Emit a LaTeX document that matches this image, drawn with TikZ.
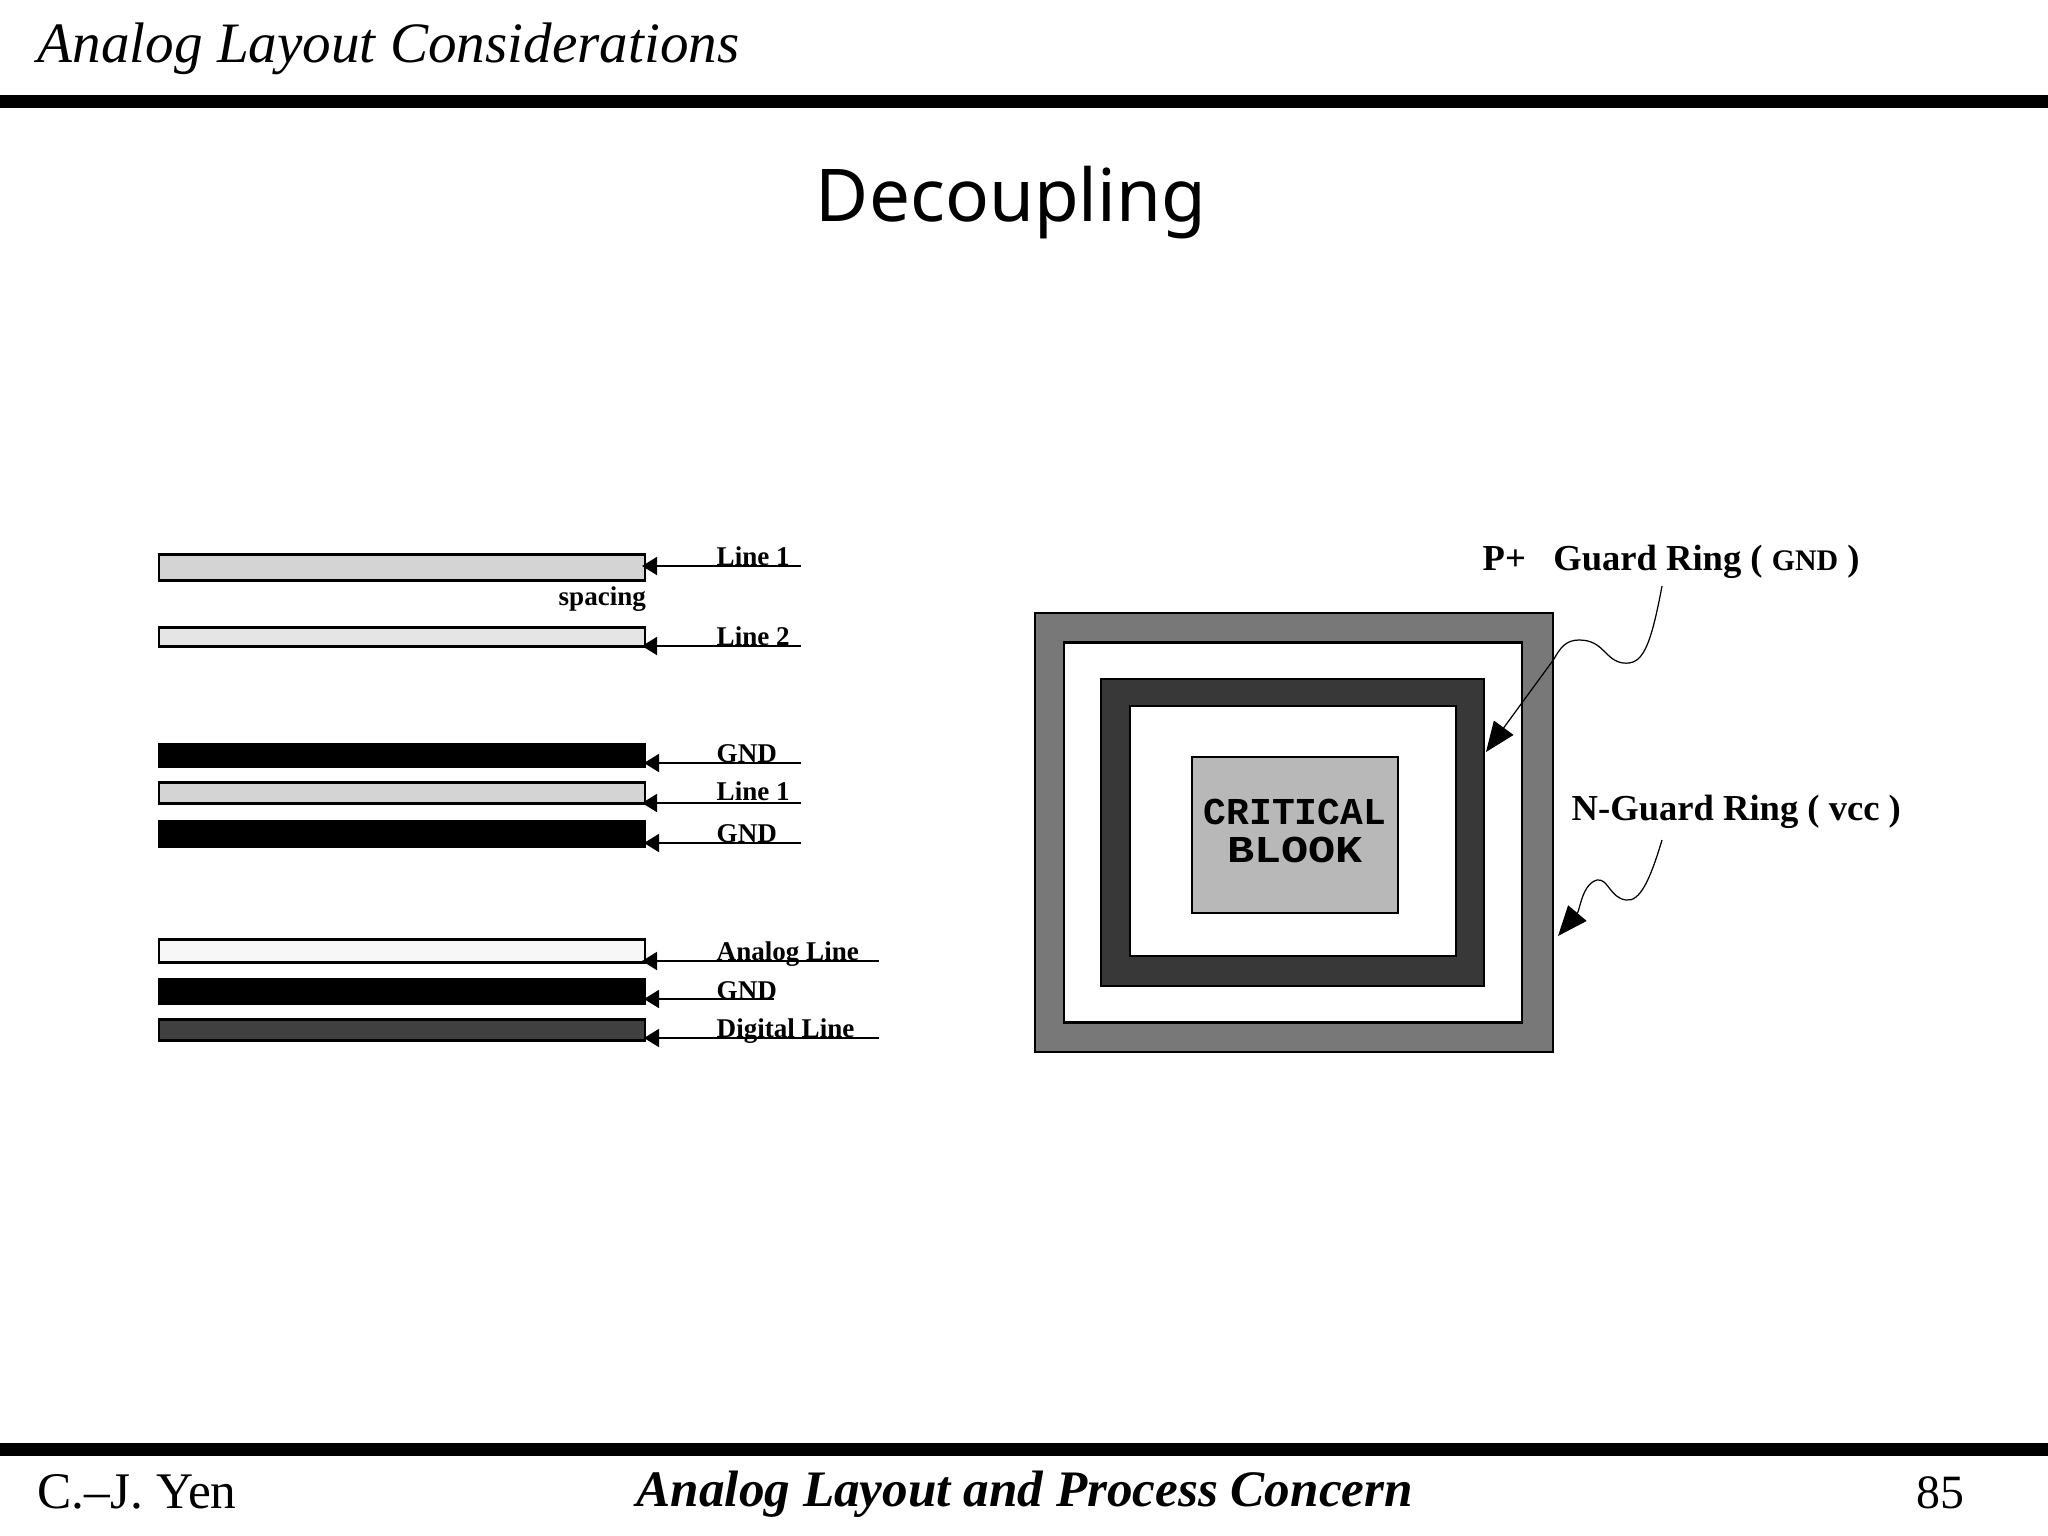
\documentclass[tikz,border=0pt]{standalone}
\usepackage{fontspec}
\setmainfont{Liberation Serif}
\newfontfamily\titlefont{Noto Sans}
\newfontfamily\blockfont{Liberation Mono}
\usetikzlibrary{arrows.meta}
\definecolor{lineone}{gray}{.83}
\definecolor{linetwo}{gray}{.90}
\definecolor{analogfill}{gray}{.97}
\definecolor{digitalfill}{gray}{.25}
\definecolor{nring}{gray}{.47}
\definecolor{pring}{gray}{.22}
\definecolor{blockfill}{gray}{.72}
\begin{document}
\begin{tikzpicture}[x=.01cm,y=-.01cm,
  bar/.style={draw,rectangle,line width=.7pt,inner sep=0pt,
   minimum width=4.86cm},
  ring/.style={draw,rectangle,line width=.7pt,inner sep=0pt},
  lbl/.style={anchor=base west,inner sep=0pt,
   font=\fontsize{7.7}{9}\selectfont\bfseries},
  big/.style={anchor=base west,inner sep=0pt,
   font=\fontsize{10.4}{12}\selectfont\bfseries},
  head/.style={anchor=base west,inner sep=0pt,
   font=\fontsize{14.6}{18}\selectfont},
  lead/.style={-{Triangle[length=.15cm,width=.18cm]},line width=.5pt},
  wavy/.style={-{Triangle[length=.3cm,width=.24cm]},line width=.35pt}]
\useasboundingbox (0,0) rectangle (2048,1536);
% page frame
\fill (0,95) rectangle (2048,108);
\fill (0,1443) rectangle (2048,1456);
\node (top) at (37,62) [head,font=\fontsize{16.25}{18}\selectfont\itshape]
   {Analog Layout Considerations};
\node (title) at (1011,221) [anchor=base,inner sep=0pt,
   font=\fontsize{20.7}{24}\selectfont\titlefont] {Decoupling};
\node (author) at (37,1508) [head] {C.--J. Yen};
\node (course) at (636,1506) [head,font=\fontsize{14.55}{18}\selectfont\bfseries\itshape]
   {Analog Layout and Process Concern};
\node (page) at (1916,1508) [head,font=\fontsize{13.6}{18}\selectfont] {85};
% left column
\node (b1) at (402,567.5) [bar,fill=lineone,minimum height=.26cm] {};
\node (b2) at (402,637) [bar,fill=linetwo,minimum height=.19cm] {};
\node (b3) at (402,755.5) [bar,fill=black,minimum height=.22cm] {};
\node (b4) at (402,793) [bar,fill=lineone,minimum height=.21cm] {};
\node (b5) at (402,834) [bar,fill=black,minimum height=.25cm] {};
\node (b6) at (402,951) [bar,fill=analogfill,minimum height=.23cm] {};
\node (b7) at (402,991.5) [bar,fill=black,minimum height=.24cm] {};
\node (b8) at (402,1030) [bar,fill=digitalfill,minimum height=.21cm] {};
\node (l1) at (716,565) [lbl] {Line 1};
\node (sp) at (558,605) [lbl] {spacing};
\node (l2) at (716,645) [lbl] {Line 2};
\node (l3) at (716,762) [lbl] {GND};
\node (l4) at (716,800) [lbl] {Line 1};
\node (l5) at (716,842) [lbl] {GND};
\node (l6) at (716,960) [lbl] {Analog Line};
\node (l7) at (716,999) [lbl] {GND};
\node (l8) at (716,1037) [lbl] {Digital Line};
\coordinate (e1) at (801,566); \coordinate (t1) at (642,566);
\coordinate (e2) at (801,646); \coordinate (t2) at (642,646);
\coordinate (e3) at (801,763); \coordinate (t3) at (644,763);
\coordinate (e4) at (801,803); \coordinate (t4) at (642,803);
\coordinate (e5) at (801,843); \coordinate (t5) at (644,843);
\coordinate (e6) at (879,961); \coordinate (t6) at (642,961);
\coordinate (e7) at (774,999); \coordinate (t7) at (644,999);
\coordinate (e8) at (879,1038); \coordinate (t8) at (644,1038);
\draw[lead] (e1) -- (t1);
\draw[lead] (e2) -- (t2);
\draw[lead] (e3) -- (t3);
\draw[lead] (e4) -- (t4);
\draw[lead] (e5) -- (t5);
\draw[lead] (e6) -- (t6);
\draw[lead] (e7) -- (t7);
\draw[lead] (e8) -- (t8);
% guard rings
\node (nout) at (1294,832.5) [ring,fill=nring,
   minimum width=5.18cm,minimum height=4.39cm] {};
\node (nin) at (1293,832.5) [ring,fill=white,
   minimum width=4.58cm,minimum height=3.8cm] {};
\node (pout) at (1292.5,832.5) [ring,fill=pring,
   minimum width=3.83cm,minimum height=3.07cm] {};
\node (pin) at (1293,831) [ring,fill=white,
   minimum width=3.26cm,minimum height=2.5cm] {};
\node (block) at (1295,835) [ring,fill=blockfill,
   minimum width=2.06cm,minimum height=1.56cm] {};
\node (crit) at (1295,831) [align=center,inner sep=0pt,
   font=\fontsize{10.8}{10.6}\selectfont\blockfont\bfseries]
   {CRITICAL\\\scalebox{1.19}[1]{BLOOK}};
\node (pl) at (1482,570) [big] {P+\hspace{.75em}Guard Ring ( {\fontsize{8.5}{9}\selectfont GND} )};
\node (nl) at (1571,820) [big] {N-Guard Ring ( vcc )};
\coordinate (ps) at (1662,586); \coordinate (pt) at (1486,752);
\coordinate (ns) at (1662,840); \coordinate (nt) at (1558,936);
\draw[wavy] (ps) .. controls (1650,650) and (1642,665) .. (1623,663)
   .. controls (1604,660) and (1604,640) .. (1579,640)
   .. controls (1566,640) and (1560,648) .. (1554,659) -- (pt);
\draw[wavy] (ns) .. controls (1650,880) and (1640,902) .. (1626,900)
   .. controls (1610,898) and (1608,878) .. (1597,880)
   .. controls (1582,884) and (1580,910) .. (nt);
\end{tikzpicture}
\end{document}
